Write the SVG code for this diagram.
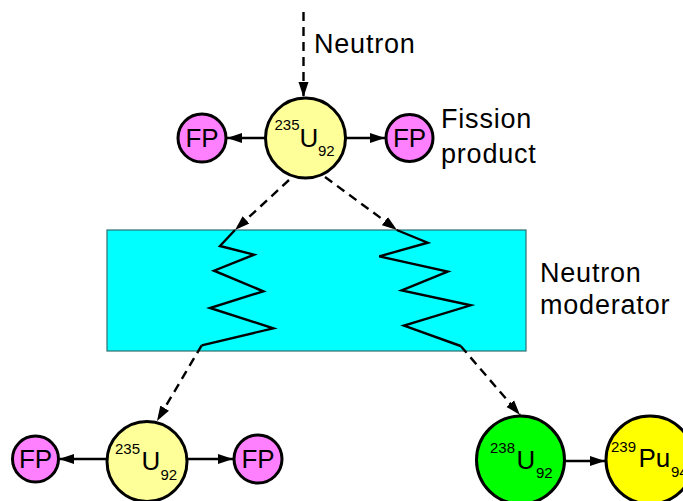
<svg xmlns="http://www.w3.org/2000/svg" width="683" height="501" viewBox="0 0 683 501">
<defs>
<marker id="ah" markerWidth="16" markerHeight="12" refX="15" refY="6" orient="auto" markerUnits="userSpaceOnUse">
<path d="M0,1 L15,6 L0,11 Z" fill="#000"/>
</marker>
<style>
text{font-family:"Liberation Sans",Arial,sans-serif;fill:#000}
.big{font-size:27px;letter-spacing:0.8px}
.sym{font-size:26px}
.sm{font-size:15px}
.nuc{stroke:#000;stroke-width:3}
.fp{fill:#FF80FF}
.u235{fill:#FFFF99}
.u238{fill:#00FF00}
.pu{fill:#FFFF00}
.solid{fill:none;stroke:#000;stroke-width:2.4}
.dash{fill:none;stroke:#000;stroke-width:2.4;stroke-dasharray:9,6}
.zig{fill:none;stroke:#000;stroke-width:2.4;stroke-linejoin:miter}
</style>
</defs>
<rect id="moderator" x="107" y="230" width="419" height="121" fill="#00FFFF" stroke="#2F6F6F" stroke-width="1.2"/>
<g id="connectors">
<line class="dash" x1="303.5" y1="12" x2="303.5" y2="97" marker-end="url(#ah)"/>
<line class="solid" x1="265" y1="138" x2="227" y2="138" marker-end="url(#ah)"/>
<line class="solid" x1="346" y1="138" x2="385" y2="138" marker-end="url(#ah)"/>
<line class="dash" x1="289" y1="180" x2="235" y2="230" marker-end="url(#ah)"/>
<line class="dash" x1="325" y1="177" x2="397" y2="230" marker-end="url(#ah)"/>
<polyline class="zig" points="235,230 220,246 254,254.7 214,270.7 263.3,291.3 210,308 273.3,328.3 201.7,345.3"/>
<polyline class="zig" points="396.7,230 427.7,242.7 379.3,256.3 447.7,271.7 401.7,290.3 470.7,305.3 404,325.7 460.7,346"/>
<line class="dash" x1="201.7" y1="345.3" x2="157" y2="421" marker-end="url(#ah)"/>
<line class="dash" x1="460.7" y1="346" x2="520" y2="415" marker-end="url(#ah)"/>
<line class="solid" x1="106" y1="459" x2="59" y2="459" marker-end="url(#ah)"/>
<line class="solid" x1="188" y1="459" x2="233" y2="459" marker-end="url(#ah)"/>
<line class="solid" x1="565" y1="461" x2="605" y2="461" marker-end="url(#ah)"/>
</g>
<g id="label-neutron"><text class="big" x="314" y="53">Neutron</text></g>
<g id="label-fission"><text class="big" x="441" y="128">Fission</text><text class="big" x="441" y="163">product</text></g>
<g id="label-moderator"><text class="big" x="540" y="282">Neutron</text><text class="big" x="540" y="314">moderator</text></g>
<g id="u235-top">
<circle class="nuc u235" cx="305.5" cy="138" r="40"/>
<text class="sm" x="274.5" y="130">235</text><text class="sym" x="299.5" y="147">U</text><text class="sm" x="318" y="156">92</text>
</g>
<g id="fp-top-left"><circle class="nuc fp" cx="202" cy="138" r="24"/><text class="sym" x="202" y="147" text-anchor="middle">FP</text></g>
<g id="fp-top-right"><circle class="nuc fp" cx="409.5" cy="138" r="23.5"/><text class="sym" x="409.5" y="147" text-anchor="middle">FP</text></g>
<g id="u235-bottom">
<circle class="nuc u235" cx="147" cy="461.5" r="40"/>
<text class="sm" x="115" y="454">235</text><text class="sym" x="141.5" y="469.5">U</text><text class="sm" x="160.5" y="480">92</text>
</g>
<g id="fp-bottom-left"><circle class="nuc fp" cx="35.5" cy="459" r="23"/><text class="sym" x="35.5" y="468" text-anchor="middle">FP</text></g>
<g id="fp-bottom-right"><circle class="nuc fp" cx="258" cy="459" r="24"/><text class="sym" x="258" y="468" text-anchor="middle">FP</text></g>
<g id="u238">
<circle class="nuc u238" cx="520.5" cy="460" r="44"/>
<text class="sm" x="490" y="452.5">238</text><text class="sym" x="516.5" y="468.5">U</text><text class="sm" x="536" y="477.5">92</text>
</g>
<g id="pu239">
<circle class="nuc pu" cx="650" cy="460" r="44"/>
<text class="sm" x="611" y="451.5">239</text><text class="sym" x="638.5" y="467">Pu</text><text class="sm" x="671" y="477">94</text>
</g>
</svg>
